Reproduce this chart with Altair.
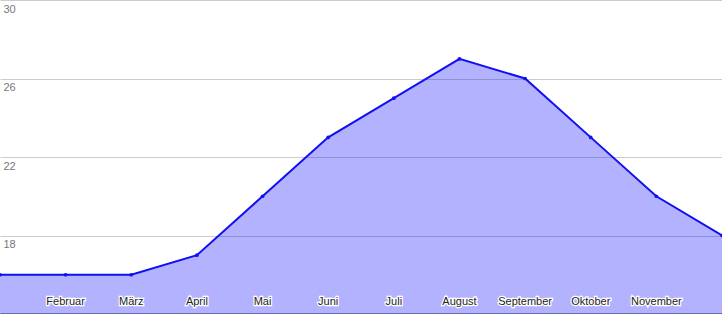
import altair as alt
import pandas as pd

months = ["Januar", "Februar", "März", "April", "Mai", "Juni", "Juli",
          "August", "September", "Oktober", "November", "Dezember"]
values = [16, 16, 16, 17, 20, 23, 25, 27, 26, 23, 20, 18]
shown_labels = ["", "Februar", "März", "April", "Mai", "Juni", "Juli",
                "August", "September", "Oktober", "November", ""]
y_ticks = [18, 22, 26, 30]

df = pd.DataFrame({"idx": list(range(len(months))), "month": months,
                   "value": values, "label": shown_labels})

x = alt.X("idx:Q", scale=alt.Scale(domain=[0, 11], nice=False, zero=False),
          axis=alt.Axis(title=None, labels=False, ticks=False, grid=False,
                        domain=True, domainColor="#333333", domainWidth=2))
y = alt.Y("value:Q", scale=alt.Scale(domain=[14, 30], nice=False, zero=False),
          axis=alt.Axis(title=None, values=y_ticks, ticks=False, domain=False,
                        grid=True, gridColor="#cccccc", gridWidth=1,
                        labelAlign="left", labelBaseline="top",
                        labelPadding=-3, labelOffset=3,
                        labelColor="#777777", labelFont="Liberation Sans",
                        labelFontSize=11))

base = alt.Chart(df)
area = base.mark_area(color="#0000ff", opacity=0.3).encode(x=x, y=y)
line = base.mark_line(color="#1010f0", strokeWidth=2).encode(x="idx:Q", y="value:Q")
pts = base.mark_point(filled=True, color="#1010f0", size=14, opacity=1).encode(x="idx:Q", y="value:Q")

lbl = base.transform_filter(alt.datum.label != "")
halo = lbl.mark_text(font="Liberation Sans", fontSize=11, stroke="white",
                     strokeWidth=2.5, fill="white", baseline="middle").encode(
    x="idx:Q", y=alt.value(302), text="label:N")
txt = lbl.mark_text(font="Liberation Sans", fontSize=11, color="#222222",
                    baseline="middle").encode(
    x="idx:Q", y=alt.value(302), text="label:N")

chart = alt.layer(area, line, pts, halo, txt).properties(
    width=722, height=314, padding=0, autosize=alt.AutoSizeParams(type="none")
).configure_view(stroke=None)

chart.save("out.html", embed_options={"renderer": "svg", "actions": False})
